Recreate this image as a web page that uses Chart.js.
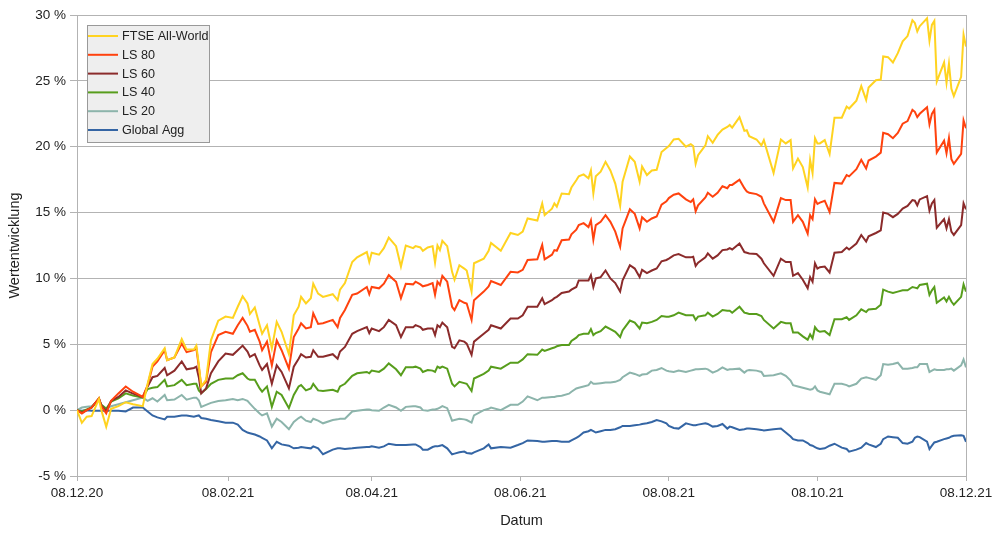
<!DOCTYPE html>
<html>
<head>
<meta charset="utf-8">
<script src="https://cdn.jsdelivr.net/npm/chart.js@4.4.1/dist/chart.umd.min.js"></script>
<style>
  html, body { margin: 0; padding: 0; background: #ffffff; }
  #wrap { width: 1000px; height: 539px; position: relative; }
</style>
</head>
<body>
<div id="wrap"><canvas id="c"></canvas></div>
<script>
// Days since 08.12.2020
const days = [
  0,2,4,6,9,10,12,14,17,20,23,27,29,31,33,36,37,40,43,45,48,49,50,51,53,55,58,61,
  64,66,68,70,71,73,75,76,78,80,82,84,87,89,91,92,94,96,97,99,101,105,107,108,110,113,115,119,120,121,124,
  126,128,131,133,135,138,139,141,142,144,146,147,148,149,150,152,154,155,157,159,160,162,163,167,169,170,174,178,181,183,185,
  189,191,192,195,196,197,199,202,203,205,206,208,210,211,212,213,215,217,219,221,223,224,227,229,231,232,234,236,238,240,242,243,245,
  247,250,252,253,254,255,258,259,261,263,265,267,268,269,272,274,275,276,279,281,282,286,289,291,293,294,296,298,300,301,302,303,304,305,307,309,
  311,314,316,317,320,322,324,325,328,330,331,333,335,337,339,341,343,344,345,346,349,350,351,352,353,356,357,358,359,360,363,364,365
];

const ftse = [
  0,-0.96,-0.5,-0.45,0.85,0,-1.27,0.1,0.3,0.6,0.45,0.3,2.0,3.5,3.9,4.7,3.8,4.0,5.4,4.6,4.6,4.9,3.5,1.8,2.3,5.3,6.8,7.1,
  7.0,7.85,8.65,8.1,7.3,7.8,6.45,5.8,6.45,4.7,6.7,5.95,4.25,7.2,7.85,8.6,8.1,8.5,9.6,8.85,8.6,8.8,8.35,9.15,9.65,11.25,11.6,12.0,11.25,11.95,11.8,
  12.3,13.1,12.45,10.9,12.5,12.3,12.45,12.35,12.1,12.35,12.45,11.2,12.5,12.15,12.85,12.45,10.5,9.9,11.0,10.75,10.6,9.0,11.15,11.5,12.1,12.7,12.1,13.45,13.3,13.55,14.55,
  14.4,15.7,14.8,15.3,15.7,15.45,16.45,16.4,16.9,17.45,17.75,17.9,17.6,18.2,16.45,17.75,18.1,18.85,18.2,17.2,15.5,17.35,19.25,18.85,17.35,18.5,17.85,18.2,18.25,19.6,19.9,20.05,20.55,
  20.6,20.0,20.2,20.05,18.7,19.35,20.1,20.8,20.3,20.9,21.3,21.5,21.65,21.45,22.25,21.2,21.25,20.8,20.55,20.1,20.5,18.0,20.55,20.25,20.5,18.35,19.1,18.45,16.9,19.0,18.0,20.65,20.25,20.25,20.5,19.45,
  22.2,22.2,23.05,22.9,23.5,24.6,23.55,24.5,25.05,25.1,26.85,26.8,26.4,27.1,28.0,28.4,29.6,29.4,28.75,29.15,29.75,28.05,29.25,29.55,24.95,26.4,24.85,26.3,24.4,23.85,25.3,28.5,27.6
];

const ls80 = [
  0,-0.25,0,0.2,0.9,0.3,-0.25,0.7,1.27,1.8,1.4,1.0,1.9,3.3,3.7,4.55,3.8,4.0,5.06,4.4,4.55,4.7,3.3,1.8,2.15,4.4,5.7,5.95,
  5.8,6.45,7.0,6.4,5.95,6.1,5.2,4.55,5.2,3.4,5.3,4.55,3.15,5.55,6.2,6.6,6.2,6.3,7.35,6.55,6.6,6.85,6.3,7.0,7.6,8.75,8.85,9.35,8.8,9.35,9.25,
  9.6,10.25,9.75,8.5,9.6,9.55,9.75,9.55,9.4,9.5,9.65,8.75,9.75,9.5,10.2,9.75,7.85,7.6,8.35,8.15,8.1,6.85,8.35,9.0,9.4,9.8,9.5,10.5,10.45,10.65,11.4,
  11.45,12.55,11.45,11.8,12.15,12.1,12.9,12.95,13.35,13.7,14.05,14.2,13.9,14.4,12.95,14.05,14.3,14.8,14.3,13.55,12.4,13.8,15.25,14.9,13.8,14.65,14.3,14.55,14.7,15.6,15.85,16.1,16.35,
  16.45,16.0,15.8,16.0,15.1,15.55,16.15,16.5,16.2,16.5,17.0,16.85,17.1,17.1,17.5,16.85,16.6,16.5,16.4,16.2,15.7,14.3,16.1,15.95,15.95,14.3,14.8,14.3,13.4,14.8,14.5,16.0,15.65,15.75,15.9,15.05,
  17.25,17.2,17.85,17.75,18.3,19.0,18.35,18.95,19.25,19.55,21.05,20.95,20.65,21.05,21.75,21.95,22.8,22.65,22.25,22.5,23.0,21.7,22.5,22.8,19.55,20.45,19.5,20.65,19.05,18.7,19.45,22.0,21.4
];

const ls60 = [
  0,-0.2,0,0.2,0.9,0.35,-0.1,0.7,1.0,1.5,1.25,1.0,1.8,2.5,2.6,3.2,2.65,3.0,3.7,3.1,3.2,3.3,2.5,1.27,1.65,2.8,3.7,4.3,
  4.2,4.55,4.9,4.45,4.05,4.25,3.4,3.05,3.5,2.0,3.4,2.9,1.65,3.3,3.9,4.25,4.0,4.05,4.55,4.05,4.05,4.25,3.9,4.45,4.8,5.8,6.0,6.3,5.85,6.2,6.0,
  6.3,6.85,6.45,5.55,6.3,6.3,6.45,6.3,6.1,6.2,6.2,5.7,6.45,6.3,6.65,6.3,4.8,4.7,5.3,5.2,5.05,4.2,5.2,5.8,6.1,6.45,6.2,6.95,6.95,7.2,7.85,
  7.85,8.5,8.05,8.35,8.5,8.6,8.9,9.0,9.15,9.35,9.85,9.85,9.85,10.25,9.35,10.0,10.1,10.6,10.0,9.65,9.0,9.85,11.0,10.75,10.1,10.65,10.4,10.6,10.75,11.3,11.4,11.5,11.75,
  11.85,11.6,11.6,11.65,10.95,11.2,11.6,11.9,11.5,11.75,12.15,12.2,12.3,12.2,12.65,12.0,11.95,11.9,11.85,11.5,11.15,10.2,11.5,11.25,11.25,10.2,10.4,9.9,9.25,10.1,9.75,11.15,10.75,10.85,10.9,10.45,
  11.95,12.0,12.35,12.2,12.65,13.3,12.8,13.2,13.45,13.65,15.0,14.9,14.65,14.9,15.3,15.5,15.95,15.9,15.55,16.0,16.25,15.15,15.7,15.95,13.85,14.5,13.8,14.5,13.55,13.3,14.05,15.7,15.25
];

const ls40 = [
  0,-0.1,0.05,0.2,0.85,0.4,0.1,0.65,0.9,1.27,1.1,0.95,1.6,1.7,1.75,2.3,1.8,1.9,2.3,1.9,2.0,2.0,1.5,1.3,1.6,2.0,2.3,2.4,
  2.4,2.65,2.8,2.4,2.3,2.3,1.65,1.4,1.8,0.25,1.4,1.15,0.15,1.15,1.8,1.9,1.5,1.65,2.0,1.5,1.45,1.55,1.4,1.8,2.0,2.6,2.8,2.9,2.8,3.0,2.9,
  3.15,3.55,3.1,2.65,3.25,3.25,3.3,3.15,2.9,3.05,3.0,2.9,3.3,3.2,3.3,3.15,2.0,1.8,2.15,2.05,2.0,1.45,2.4,2.75,3.0,3.3,3.15,3.6,3.6,3.85,4.25,
  4.2,4.6,4.5,4.7,4.75,4.85,4.95,4.95,5.25,5.5,5.7,5.8,5.8,6.15,5.7,5.85,6.0,6.35,6.15,5.95,5.55,6.05,6.8,6.65,6.2,6.65,6.6,6.7,6.85,7.15,7.1,7.1,7.2,
  7.4,7.2,7.2,7.2,6.85,7.1,7.2,7.4,7.1,7.3,7.6,7.55,7.55,7.4,7.85,7.4,7.35,7.3,7.3,7.15,6.85,6.2,6.7,6.6,6.6,5.9,5.9,5.6,5.35,5.75,5.45,6.3,6.05,5.95,6.0,5.7,
  6.9,6.9,7.05,6.85,7.2,7.65,7.45,7.65,7.7,8.0,9.15,9.0,8.9,9.0,9.1,9.1,9.35,9.3,9.25,9.5,9.6,8.75,9.1,9.35,8.15,8.55,8.25,8.6,8.25,8.0,8.6,9.55,9.0
];

const ls20 = [
  0,0.2,0.25,0.3,0.75,0.4,0.1,0.3,0.45,0.6,0.75,0.95,0.7,0.9,0.65,1.15,0.75,0.8,1.15,0.8,0.95,0.95,0.75,0.25,0.4,0.55,0.7,0.75,
  0.85,0.75,0.85,0.7,0.5,0.1,-0.25,-0.4,-0.25,-1.25,-0.65,-0.9,-1.45,-0.9,-0.6,-0.5,-0.8,-0.9,-0.65,-0.8,-1.0,-0.75,-0.7,-0.65,-0.65,-0.1,-0.05,0.05,0.05,0.0,-0.05,
  0.2,0.4,0.2,-0.05,0.25,0.3,0.3,0.2,0.0,-0.05,0.05,0.05,0.1,0.2,0.3,0.15,-0.8,-0.75,-0.65,-0.7,-0.75,-0.95,-0.4,0.0,0.1,0.2,0.0,0.4,0.4,0.65,1.05,
  0.75,0.95,0.95,1.0,1.0,1.05,1.1,1.25,1.4,1.65,1.7,1.8,1.9,2.15,2.0,2.0,2.05,2.1,2.1,2.15,2.3,2.5,2.85,2.75,2.6,2.7,2.75,3.0,3.05,3.2,3.0,2.95,2.9,
  3.0,2.9,3.0,3.05,3.1,3.1,3.15,3.1,2.85,3.0,3.25,3.05,3.1,3.1,3.15,2.85,3.0,3.05,3.0,2.9,2.6,2.65,2.8,2.6,2.25,1.9,1.8,1.7,1.6,1.55,1.6,1.8,1.5,1.4,1.3,1.2,
  2.0,2.0,1.9,1.8,2.0,2.4,2.5,2.45,2.3,2.65,3.5,3.45,3.5,3.6,3.15,3.15,3.2,3.25,3.25,3.5,3.5,2.9,3.0,3.1,3.05,3.05,3.1,3.1,3.15,3.0,3.4,3.85,3.25
];

const globalAgg = [
  0,-0.05,0,-0.05,-0.05,-0.05,-0.05,-0.05,-0.05,-0.1,0.2,0.2,-0.1,-0.4,-0.55,-0.7,-0.5,-0.5,-0.4,-0.4,-0.5,-0.45,-0.4,-0.6,-0.65,-0.75,-0.85,-0.95,
  -0.95,-1.1,-1.5,-1.7,-1.75,-1.85,-2.0,-2.1,-2.3,-2.9,-2.4,-2.6,-2.7,-2.9,-2.85,-2.8,-2.85,-2.9,-2.75,-2.9,-3.35,-3.0,-2.9,-2.9,-2.95,-2.9,-2.85,-2.8,-2.8,-2.75,-2.85,
  -2.75,-2.55,-2.65,-2.65,-2.65,-2.6,-2.6,-2.8,-3.0,-3.0,-2.8,-2.75,-2.75,-2.7,-2.65,-2.9,-3.35,-3.3,-3.2,-3.15,-3.25,-3.3,-3.2,-2.9,-2.6,-2.9,-2.8,-2.85,-2.65,-2.5,-2.3,
  -2.35,-2.4,-2.4,-2.35,-2.35,-2.35,-2.4,-2.4,-2.3,-2.1,-2.0,-1.7,-1.6,-1.5,-1.6,-1.7,-1.6,-1.5,-1.5,-1.45,-1.3,-1.2,-1.2,-1.15,-1.1,-1.05,-1.0,-0.9,-0.75,-0.85,-1.0,-1.2,-1.35,
  -1.4,-1.0,-1.1,-1.15,-1.15,-1.1,-1.0,-1.05,-1.25,-1.2,-1.05,-1.4,-1.25,-1.3,-1.5,-1.45,-1.4,-1.4,-1.45,-1.5,-1.55,-1.45,-1.4,-1.7,-2.0,-2.2,-2.3,-2.3,-2.5,-2.65,-2.7,-2.8,-2.9,-2.95,-2.9,-2.7,
  -2.55,-2.85,-2.95,-3.15,-3.0,-2.85,-2.5,-2.6,-2.8,-2.55,-2.2,-2.0,-2.05,-2.1,-2.5,-2.55,-2.4,-2.1,-2.0,-2.05,-2.4,-2.95,-2.7,-2.45,-2.4,-2.2,-2.15,-2.1,-2.0,-1.95,-1.9,-1.95,-2.4
];

const seriesNames = ['FTSE All-World', 'LS 80', 'LS 60', 'LS 40', 'LS 20', 'Global Agg'];
const seriesColors = ['#ffd320', '#ff420e', '#8b2b2b', '#579d1c', '#8cb4ab', '#3465a4'];
const tickDays = [0, 62, 121, 182, 243, 304, 365];
const tickLabels = ['08.12.20', '08.02.21', '08.04.21', '08.06.21', '08.08.21', '08.10.21', '08.12.21'];

const allSeries = [ftse, ls80, ls60, ls40, ls20, globalAgg];
const FONT = '"Liberation Sans", Arial, sans-serif';

const datasets = allSeries.map((vals, i) => ({
  label: seriesNames[i],
  data: days.map((d, k) => ({ x: d, y: vals[k] })),
  borderColor: seriesColors[i],
  backgroundColor: seriesColors[i],
  borderWidth: 2,
  pointRadius: 0,
  tension: 0,
  fill: false
}));

const frame = {
  id: 'frame',
  beforeDatasetsDraw(chart) {
    const { ctx, chartArea: a } = chart;
    ctx.save();
    ctx.strokeStyle = '#b3b3b3';
    ctx.lineWidth = 1;
    ctx.beginPath();
    ctx.moveTo(Math.round(a.right) + 0.5, a.top);
    ctx.lineTo(Math.round(a.right) + 0.5, a.bottom);
    ctx.stroke();
    ctx.restore();
  }
};

const legendBox = {
  id: 'legendBox',
  afterDraw(chart) {
    const { ctx, chartArea: a } = chart;
    const x0 = Math.round(a.left) + 10, y0 = Math.round(a.top) + 10;
    const w = 122, h = 117, rowH = 18.8;
    ctx.save();
    ctx.fillStyle = '#eeeeee';
    ctx.fillRect(x0, y0, w, h);
    ctx.strokeStyle = '#999999';
    ctx.lineWidth = 1;
    ctx.strokeRect(x0 + 0.5, y0 + 0.5, w, h);
    chart.data.datasets.forEach((ds, i) => {
      const cy = y0 + 11 + i * rowH;
      ctx.strokeStyle = ds.borderColor;
      ctx.lineWidth = 2;
      ctx.beginPath();
      ctx.moveTo(x0 + 1, cy);
      ctx.lineTo(x0 + 31, cy);
      ctx.stroke();
      ctx.fillStyle = '#222222';
      ctx.font = '12.6px ' + FONT;
      ctx.textBaseline = 'middle';
      ctx.textAlign = 'left';
      ctx.fillText(ds.label, x0 + 35, cy + 0.5);
    });
    ctx.restore();
  }
};

new Chart(document.getElementById('c'), {
  type: 'line',
  data: { datasets },
  plugins: [frame, legendBox],
  options: {
    responsive: true,
    maintainAspectRatio: false,
    animation: false,
    devicePixelRatio: 1,
    layout: { padding: { top: 15, right: 34, bottom: 0, left: 0 } },
    plugins: { legend: { display: false }, tooltip: { enabled: false } },
    scales: {
      x: {
        type: 'linear',
        min: 0,
        max: 365,
        afterBuildTicks(scale) { scale.ticks = tickDays.map(v => ({ value: v })); },
        afterFit(scale) { scale.height = 63; },
        ticks: {
          autoSkip: false,
          maxRotation: 0,
          padding: 4,
          color: '#222222',
          font: { family: FONT, size: 13.5 },
          callback: (v) => { const i = tickDays.indexOf(v); return i >= 0 ? tickLabels[i] : ''; }
        },
        grid: { drawOnChartArea: false, drawTicks: true, tickLength: 5, color: '#b3b3b3' },
        border: { color: '#b3b3b3' },
        title: { display: true, text: 'Datum', color: '#222222', font: { family: FONT, size: 14.5 }, padding: { top: 4, bottom: 9 } }
      },
      y: {
        min: -5,
        max: 30,
        afterFit(scale) { scale.width = 77; },
        ticks: {
          stepSize: 5,
          padding: 4,
          color: '#222222',
          font: { family: FONT, size: 13.5 },
          callback: (v) => v + ' %'
        },
        grid: { color: '#b3b3b3', tickLength: 7, drawTicks: true },
        border: { color: '#b3b3b3' },
        title: { display: true, text: 'Wertentwicklung', color: '#222222', font: { family: FONT, size: 14.5 }, padding: { top: 6, bottom: 4 } }
      }
    }
  }
});
</script>
</body>
</html>
